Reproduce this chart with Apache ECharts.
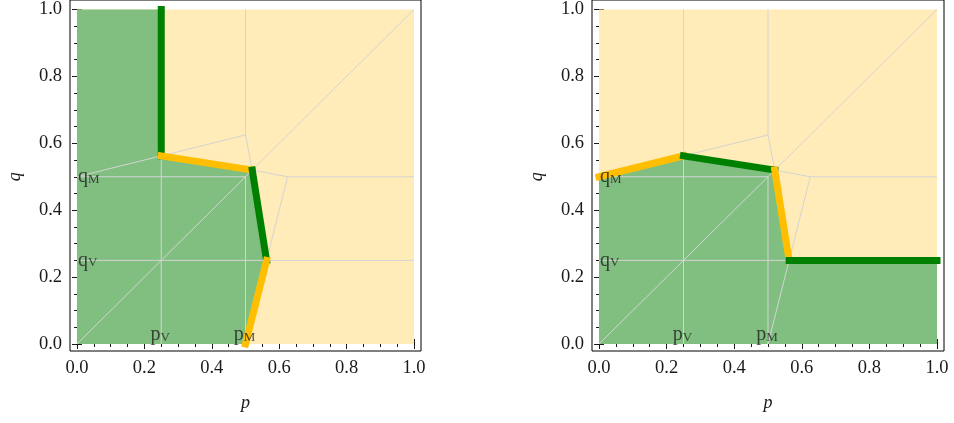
<!DOCTYPE html>
<html><head><meta charset="utf-8">
<script src="https://cdn.jsdelivr.net/npm/echarts@6/dist/echarts.min.js"></script>
<style>html,body{margin:0;padding:0;background:#fff}#c{width:954px;height:423px}</style>
</head><body><div id="c"></div>
<script>
// ---- data ----
const tickValues = [0, 0.2, 0.4, 0.6, 0.8, 1.0];
const plotSquare = [[0,0],[1,0],[1,1],[0,1]];
const leftGreenRegion = [[0,0],[0.5,0],[0.5625,0.25],[0.52,0.52],[0.25,0.5625],[0.25,1],[0,1]];
const rightGreenRegion = [[0,0],[1,0],[1,0.25],[0.5625,0.25],[0.52,0.52],[0.25,0.5625],[0,0.5]];
const leftBoundary = [[0.25,1],[0.25,0.5625],[0.52,0.52],[0.5625,0.25],[0.5,0]];
const leftBoundaryColors = ['green','yellow','green','yellow'];
const rightBoundary = [[0,0.5],[0.25,0.5625],[0.52,0.52],[0.5625,0.25],[1,0.25]];
const rightBoundaryColors = ['yellow','green','yellow','green'];
const guideLines = [
  [[0.25,0],[0.25,1]],
  [[0,0.25],[1,0.25]],
  [[0.5,0],[0.5,0.5]],
  [[0.5,0.625],[0.5,1]],
  [[0,0.5],[0.5,0.5]],
  [[0.625,0.5],[1,0.5]],
  [[0,0],[1,1]],
  [[0,0.5],[0.25,0.5625],[0.5,0.625],[0.52,0.52],[0.625,0.5],[0.5625,0.25],[0.5,0]]
];
const markerLabels = [[0,0.5,'q','M'],[0,0.25,'q','V'],[0.25,0,'p','V'],[0.5,0,'p','M']];

// ---- style / layout ----
const COL = {green:'#008000', yellow:'#ffbf00', fillGreen:'#80bf80', fillYellow:'#ffecb8', guide:'#d4d4d4', ink:'#1a1a1a'};
const pad = 7;
const panels = [
  {left:77, top:6, width:337, height:338},
  {left:599, top:6, width:338, height:338}
];
const labelFont = {fontFamily:'Liberation Serif', fontSize:18.5, color:COL.ink};

const grid = [], xAxis = [], yAxis = [], series = [];
panels.forEach((pn, i) => {
  const dg = grid.length;
  grid.push({left:pn.left, top:pn.top, width:pn.width, height:pn.height, show:false});
  const fg = grid.length;
  grid.push({left:pn.left-pad, top:pn.top-pad, width:pn.width+2*pad, height:pn.height+2*pad,
             show:true, borderColor:'#000', borderWidth:1, backgroundColor:'transparent'});
  function ax(pos, showLabel, extra) {
    return Object.assign({
      type:'value', gridIndex:dg, position:pos, offset:pad, min:0, max:1, interval:0.2,
      axisLine:{show:false}, splitLine:{show:false},
      axisTick:{show:true, inside:true, length:5, lineStyle:{color:COL.ink, width:1}},
      minorTick:{show:true, splitNumber:4, length:3, lineStyle:{color:COL.ink, width:1}},
      axisLabel:Object.assign({show:showLabel, margin:8,
        formatter: v => { const t = tickValues.find(t => Math.abs(t - v) < 1e-9); return t === undefined ? '' : t.toFixed(1); }
      }, labelFont)
    }, extra || {});
  }
  const xi = xAxis.length;
  xAxis.push(ax('bottom', true, {name:'p', nameLocation:'middle', nameGap:43,
    nameTextStyle:{fontFamily:'Liberation Serif', fontStyle:'italic', fontSize:18, color:COL.ink}}));
  xAxis.push(ax('top', false));
  xAxis.push({type:'value', gridIndex:fg, show:false});
  const yi = yAxis.length;
  yAxis.push(ax('left', true, {name:'q', nameLocation:'middle', nameGap:46, nameRotate:90,
    nameTextStyle:{fontFamily:'Liberation Serif', fontStyle:'italic', fontSize:18, color:COL.ink}}));
  yAxis.push(ax('right', false));
  yAxis.push({type:'value', gridIndex:fg, show:false});

  const poly = (pts, color, z) => ({
    type:'custom', xAxisIndex:xi, yAxisIndex:yi, data:[0], z, silent:true, clip:false,
    renderItem: (params, api) => ({type:'polygon', shape:{points: pts.map(p => api.coord(p))}, style:{fill:color}})
  });
  series.push(poly(plotSquare, COL.fillYellow, 1));
  series.push(poly(i === 0 ? leftGreenRegion : rightGreenRegion, COL.fillGreen, 2));
  guideLines.forEach(g => series.push({
    type:'line', xAxisIndex:xi, yAxisIndex:yi, data:g, symbol:'none', silent:true, clip:false, z:3,
    lineStyle:{color:COL.guide, width:1}
  }));
  const path = i === 0 ? leftBoundary : rightBoundary;
  const cols = i === 0 ? leftBoundaryColors : rightBoundaryColors;
  for (let k = 0; k < cols.length; k++) {
    series.push({
      type:'line', xAxisIndex:xi, yAxisIndex:yi, data:[path[k], path[k+1]], symbol:'none', silent:true, clip:false,
      z:4 + k, lineStyle:{color:COL[cols[k]], width:7, cap:'square'}
    });
  }
  series.push({
    type:'scatter', xAxisIndex:xi, yAxisIndex:yi, symbolSize:1, itemStyle:{color:'rgba(0,0,0,0)'}, z:20, silent:true, clip:false,
    data: markerLabels.map(m => ({value:[m[0], m[1]], name:m[2] + m[3]})),
    label:{
      show:true,
      formatter: p => { const m = markerLabels[p.dataIndex]; return '{a|' + m[2] + '}{b|' + m[3] + '}'; },
      position: 'inside',
      rich:{
        a:{fontFamily:'Liberation Serif', fontSize:20, lineHeight:18, color:'#222'},
        b:{fontFamily:'Liberation Serif', fontSize:13, lineHeight:9, verticalAlign:'bottom', color:'#222'}
      }
    },
    labelLayout: p => {
      const m = markerLabels[p.dataIndex];
      return m[0] === 0
        ? {align:'left', verticalAlign:'middle', dx:1}
        : {align:'center', verticalAlign:'bottom', dx:-1};
    }
  });
});

const chart = echarts.init(document.getElementById('c'), null, {renderer:'canvas'});
chart.setOption({animation:false, grid, xAxis, yAxis, series});
</script></body></html>
